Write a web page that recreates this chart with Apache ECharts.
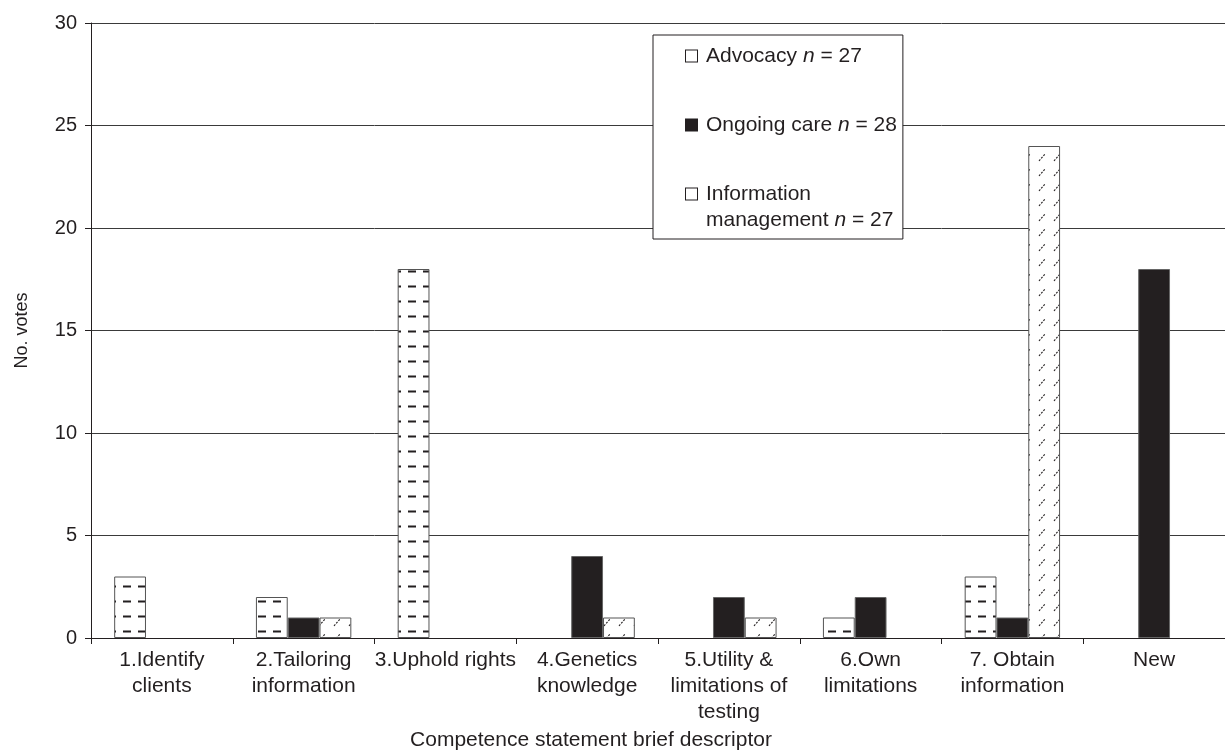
<!DOCTYPE html>
<html><head><meta charset="utf-8">
<script src="https://cdn.jsdelivr.net/npm/echarts@6/dist/echarts.min.js"></script>
<style>html,body{margin:0;padding:0;background:#fff}#c{width:1225px;height:756px}</style>
</head><body><div id="c"></div>
<script>
const categories = ['1.Identify\nclients', '2.Tailoring\ninformation', '3.Uphold rights', '4.Genetics\nknowledge', '5.Utility &\nlimitations of\ntesting', '6.Own\nlimitations', '7. Obtain\ninformation', 'New'];
const advocacy = [3, 2, 18, 0, 0, 1, 3, 0];
const ongoingCare = [0, 1, 0, 4, 2, 2, 1, 18];
const infoManagement = [0, 1, 0, 1, 1, 0, 24, 0];
const seriesNames = ['Advocacy', 'Ongoing care', 'Information management'];
const seriesN = [27, 28, 27];
const yMin = 0, yMax = 30, yStep = 5;

const INK = '#231f20';
const FONT = '"Liberation Sans", Arial, Helvetica, sans-serif';

function makePattern(kind) {
  const c = document.createElement('canvas');
  c.width = 15; c.height = 15;
  const g = c.getContext('2d');
  g.fillStyle = '#fff'; g.fillRect(0, 0, 15, 15);
  if (kind === 'dash') {
    g.fillStyle = INK;
    g.fillRect(3, 0.5, 8, 2);
  } else {
    g.strokeStyle = INK; g.lineWidth = 1.1;
    g.setLineDash([2, 1.4]);
    g.beginPath(); g.moveTo(4, 11); g.lineTo(10, 4); g.stroke();
  }
  return c;
}
const dashPat = { image: makePattern('dash'), repeat: 'repeat' };
const slashPat = { image: makePattern('slash'), repeat: 'repeat' };

// zero-height bars get no outline so they do not leave a stroke on the axis
function toData(arr) {
  return arr.map(v => v === 0 ? { value: v, itemStyle: { borderWidth: 0 } } : v);
}

const chart = echarts.init(document.getElementById('c'), null, { renderer: 'canvas' });

const baseRich = {
  bw: { width: 11, height: 11, backgroundColor: '#fff', borderColor: INK, borderWidth: 1 },
  bb: { width: 11, height: 11, backgroundColor: INK, borderColor: INK, borderWidth: 1 },
  bp: { width: 11, height: 11, backgroundColor: '#fff', borderColor: INK, borderWidth: 1 },
  g: { width: 9, fontSize: 21, lineHeight: 26 },
  g2: { width: 20, fontSize: 21, lineHeight: 26 },
  t: { fontSize: 21, lineHeight: 26, color: INK, fontFamily: FONT },
  it: { fontSize: 21, lineHeight: 26, color: INK, fontFamily: FONT, fontStyle: 'italic' }
};

chart.setOption({
  animation: false,
  backgroundColor: '#fff',
  grid: { left: 91, top: 23, right: -8, bottom: 118, containLabel: false },
  legend: {
    orient: 'vertical', left: 653, top: 35,
    padding: [8, 6, 6, 28],
    itemGap: 43, itemWidth: 0, itemHeight: 11, icon: 'none',
    backgroundColor: '#fff', borderColor: INK, borderWidth: 1,
    selectedMode: false,
    data: seriesNames,
    formatter: function (name) {
      const i = seriesNames.indexOf(name);
      const n = seriesN[i];
      if (i === 0) return '{bw|}{g|}{t|Advocacy }{it|n}{t| = ' + n + '}';
      if (i === 1) return '{bb|}{g|}{t|Ongoing care }{it|n}{t| = ' + n + '}';
      return '{bp|}{g|}{t|Information}\n{g2|}{t|management }{it|n}{t| = ' + n + '}';
    },
    textStyle: { color: INK, fontSize: 21, lineHeight: 26, fontFamily: FONT, rich: baseRich }
  },
  xAxis: {
    type: 'category', data: categories, z: 3,
    axisLine: { lineStyle: { color: INK, width: 1 } },
    axisTick: { show: true, length: 6, lineStyle: { color: INK } },
    axisLabel: { interval: 0, fontSize: 21, lineHeight: 26, color: INK, margin: 9, fontFamily: FONT },
    name: 'Competence statement brief descriptor',
    nameLocation: 'middle', nameGap: 92,
    nameTextStyle: { fontSize: 21, color: INK, fontFamily: FONT, padding: [0, 134, 0, 0] }
  },
  yAxis: {
    type: 'value', min: yMin, max: yMax, interval: yStep,
    axisLine: { show: true, lineStyle: { color: INK, width: 1 } },
    axisTick: { show: true, length: 6, lineStyle: { color: INK } },
    axisLabel: { fontSize: 20, margin: 14, color: INK, fontFamily: FONT },
    splitLine: { show: true, lineStyle: { color: '#3a3a3a', width: 1 } },
    name: 'No. votes', nameLocation: 'middle', nameGap: 60,
    nameTextStyle: { fontSize: 18, color: INK, fontFamily: FONT }
  },
  series: [
    { name: seriesNames[0], type: 'bar', data: toData(advocacy), barGap: '0%', barCategoryGap: '32.7%',
      itemStyle: { color: dashPat, borderColor: '#555', borderWidth: 1 }, emphasis: { disabled: true } },
    { name: seriesNames[1], type: 'bar', data: toData(ongoingCare), barGap: '0%', barCategoryGap: '32.7%',
      itemStyle: { color: INK, borderColor: '#666', borderWidth: 1 }, emphasis: { disabled: true } },
    { name: seriesNames[2], type: 'bar', data: toData(infoManagement), barGap: '0%', barCategoryGap: '32.7%',
      itemStyle: { color: slashPat, borderColor: '#555', borderWidth: 1 }, emphasis: { disabled: true } }
  ]
});
</script></body></html>
